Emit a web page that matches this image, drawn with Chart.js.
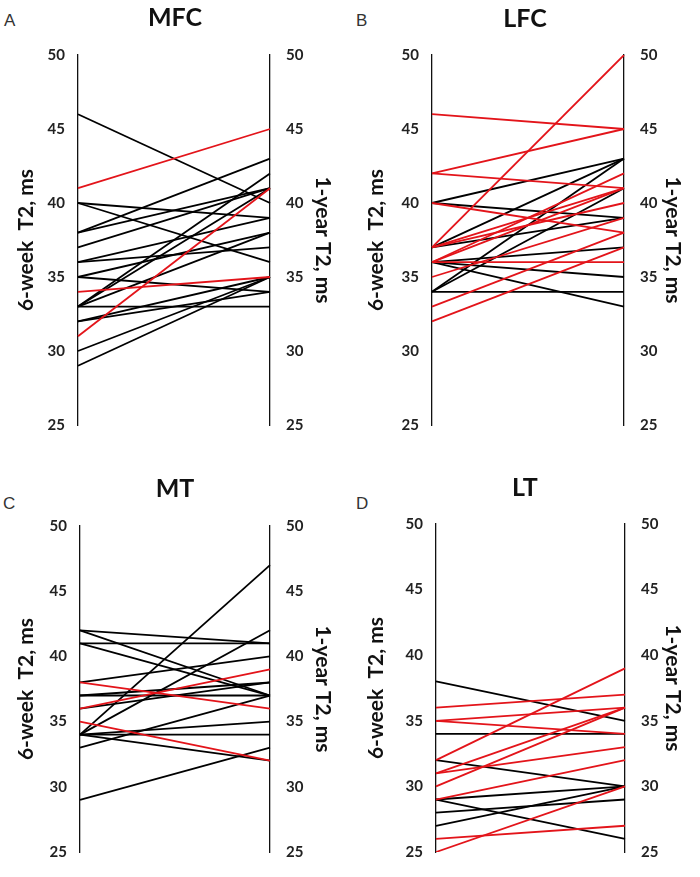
<!DOCTYPE html>
<html>
<head>
<meta charset="utf-8">
<script src="https://cdn.jsdelivr.net/npm/chart.js@4.4.1/dist/chart.umd.min.js"></script>
<style>
  body { margin: 0; background: #fff; }
  #wrap { position: relative; width: 700px; height: 877px; overflow: hidden; }
  .panel { position: absolute; }
  .letter { position: absolute; font: 17px "Liberation Sans", sans-serif; color: #333; }
</style>
</head>
<body>
<div id="wrap">
  <div class="letter" style="left:4px;top:11px">A</div>
  <div class="letter" style="left:356px;top:11px">B</div>
  <div class="letter" style="left:3px;top:494px">C</div>
  <div class="letter" style="left:356px;top:494px">D</div>
  <div class="panel" style="left:0;top:0;width:350px;height:450px"><canvas id="mfc"></canvas></div>
  <div class="panel" style="left:350px;top:0;width:350px;height:450px"><canvas id="lfc"></canvas></div>
  <div class="panel" style="left:0;top:440px;width:350px;height:437px"><canvas id="mt"></canvas></div>
  <div class="panel" style="left:350px;top:440px;width:350px;height:437px"><canvas id="lt"></canvas></div>
</div>
<script>
// 時間點
const timePoints = ['6-week', '1-year'];
const yTicks = [25, 30, 35, 40, 45, 50];

// MFC
const mfcWeek6 = [46, 41, 40, 40, 38, 38, 37, 36, 36, 35, 35, 34, 33, 33, 33, 33, 32, 32, 31, 30, 29];
const mfcYear1 = [40, 45, 36, 39, 43, 41, 41, 39, 37, 38, 34, 35, 42, 41, 38, 33, 35, 34, 41, 35, 35];
const mfcRed   = [0, 1, 0, 0, 0, 0, 0, 0, 0, 0, 0, 1, 0, 0, 0, 0, 0, 0, 1, 0, 0];

// LFC
const lfcWeek6 = [46, 42, 42, 40, 40, 40, 37, 37, 37, 37, 37, 36, 36, 36, 36, 36, 36, 35, 34, 34, 34, 33, 32];
const lfcYear1 = [45, 45, 41, 43, 39, 38, 50, 43, 41, 39, 40, 42, 41, 36, 37, 35, 33, 39, 43, 41, 34, 38, 37];
const lfcRed   = [1, 1, 1, 0, 0, 1, 1, 0, 1, 0, 1, 1, 1, 1, 0, 0, 0, 1, 0, 0, 0, 1, 1];

// MT
const mtWeek6 = [42, 42, 41, 41, 38, 38, 37, 37, 36, 36, 35, 34, 34, 34, 34, 34, 33, 29];
const mtYear1 = [41, 37, 41, 37, 40, 36, 38, 37, 39, 38, 32, 47, 42, 35, 34, 32, 37, 33];
const mtRed   = [0, 0, 0, 0, 0, 1, 0, 0, 1, 0, 1, 0, 0, 0, 0, 0, 0, 0];

// LT
const ltWeek6 = [38, 36, 35, 35, 34, 32, 32, 31, 31, 30, 29, 29, 29, 28, 27, 26, 25];
const ltYear1 = [35, 37, 36, 34, 34, 39, 30, 36, 33, 36, 32, 30, 26, 29, 30, 27, 30];
const ltRed   = [0, 1, 1, 1, 0, 1, 0, 1, 1, 1, 1, 0, 0, 0, 0, 1, 1];

const RED = '#e3141a';
const BLACK = '#000';
const FONT = 'Lato, "Open Sans", sans-serif';

function makeChart(id, title, week6, year1, red, geo) {
  const datasets = week6.map((v, i) => ({
    data: [v, year1[i]],
    borderColor: red[i] ? RED : BLACK,
    borderWidth: 1.8,
    pointRadius: 0,
    fill: false,
    tension: 0,
    yAxisID: 'y',
    order: red[i] ? 0 : 1
  }));

  function yAxis(position, width, titleText, pad, tickPad) {
    return {
      position: position,
      min: 25,
      max: 50,
      afterFit: scale => { scale.width = width; },
      afterBuildTicks: scale => { scale.ticks = yTicks.map(v => ({ value: v })); },
      grid: { display: false, drawTicks: false },
      border: { display: true, color: '#111', width: 1.3 },
      ticks: { padding: tickPad, color: '#222', font: { family: FONT, size: 15, weight: 'bold' } },
      title: {
        display: true,
        text: titleText,
        color: '#111',
        padding: { top: pad, bottom: 0 },
        font: { family: FONT, size: 21, weight: 'bold' }
      }
    };
  }

  return new Chart(document.getElementById(id), {
    type: 'line',
    data: { labels: timePoints, datasets },
    options: {
      responsive: true,
      maintainAspectRatio: false,
      animation: false,
      layout: { padding: { left: 0, right: 0, top: 0, bottom: geo.bottom } },
      plugins: {
        legend: { display: false },
        tooltip: { enabled: false },
        title: {
          display: true,
          text: title,
          color: '#111',
          padding: { top: geo.titleTop, bottom: geo.titleBottom },
          font: { family: FONT, size: 25, weight: 'bold' }
        }
      },
      scales: {
        x: { display: false, offset: false },
        y: yAxis('left', geo.left, '6-week  T2, ms', 14, 13),
        y1: yAxis('right', geo.right, '1-year T2, ms', 15, 16)
      }
    }
  });
}

makeChart('mfc', 'MFC', mfcWeek6, mfcYear1, mfcRed, { left: 78, right: 80, titleTop: 3, titleBottom: 22, bottom: 15 });
makeChart('lfc', 'LFC', lfcWeek6, lfcYear1, lfcRed, { left: 82, right: 76, titleTop: 4, titleBottom: 21, bottom: 15 });
makeChart('mt', 'MT', mtWeek6, mtYear1, mtRed, { left: 80, right: 80, titleTop: 34, titleBottom: 22, bottom: 14 });
makeChart('lt', 'LT', ltWeek6, ltYear1, ltRed, { left: 86, right: 75, titleTop: 33, titleBottom: 21, bottom: 14 });
</script>
</body>
</html>
